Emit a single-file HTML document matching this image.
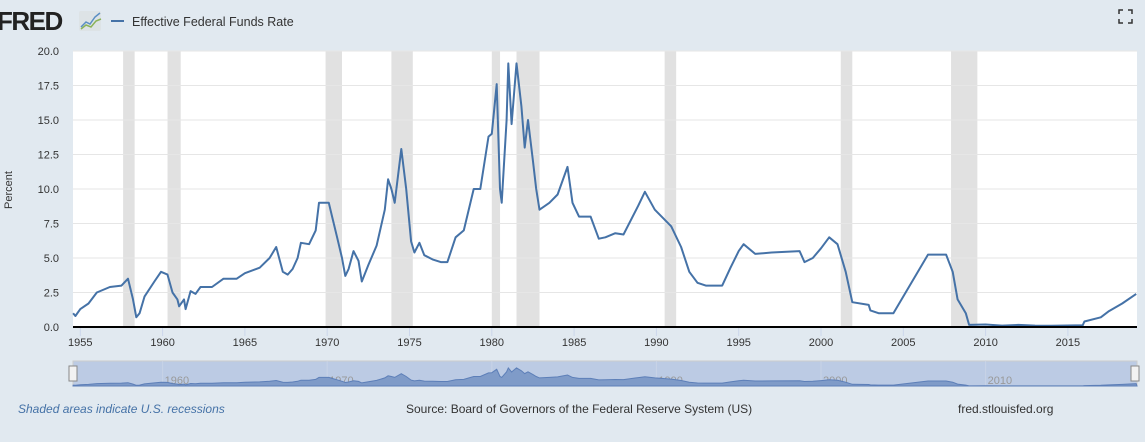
<!DOCTYPE html>
<html><head><meta charset="utf-8"><style>
body{margin:0;width:1145px;height:437px;background:#e1e9f0;font-family:"Liberation Sans",sans-serif;overflow:hidden}
</style></head><body>
<svg id="s" width="1145" height="437" xmlns="http://www.w3.org/2000/svg" font-family="Liberation Sans, sans-serif">
<rect x="0" y="0" width="1145" height="437" fill="#e1e9f0"/>
<text x="-3" y="30" font-size="26" font-weight="bold" fill="#222" letter-spacing="-1.5">FRED</text>
<rect x="79" y="11" width="22" height="20" fill="#dde3e6" rx="2"/>
<polyline points="81,27 86,22 90,24 95,17 100,13" fill="none" stroke="#5b8fc4" stroke-width="1.5"/>
<polyline points="81,29 86,25 91,27 96,21 101,19" fill="none" stroke="#8bb35a" stroke-width="1.5"/>
<line x1="111" y1="21" x2="124" y2="21" stroke="#4572a7" stroke-width="2"/>
<text x="132" y="26" font-size="12.5" fill="#333">Effective Federal Funds Rate</text>
<path d="M1119 14v-4h4M1128 10h4v4M1132 19v4h-4M1123 23h-4v-4" fill="none" stroke="#333" stroke-width="1.5"/>
<rect x="73" y="51" width="1064" height="277" fill="#fff"/>
<g id="rec"></g><g id="grid"></g>
<text x="12" y="190" font-size="11" fill="#333" transform="rotate(-90 12 190)" text-anchor="middle">Percent</text>
<path id="line" fill="none" stroke="#4572a7" stroke-width="2" stroke-linejoin="round"/>
<line x1="73" y1="327" x2="1137" y2="327" stroke="#000" stroke-width="2"/>
<g id="xt"></g>
<rect x="73" y="361" width="1064" height="25" fill="#bccbe4" stroke="#ccc"/>
<g id="nl"></g>
<path id="nav" fill="#7f9bc8" stroke="#5d7fb8" stroke-width="1"/>
<rect x="69" y="366" width="8" height="15" fill="#f2f2f2" stroke="#888"/>
<rect x="1131" y="366" width="8" height="15" fill="#f2f2f2" stroke="#888"/>
<text x="18" y="413" font-size="12" font-style="italic" fill="#4572a7">Shaded areas indicate U.S. recessions</text>
<text x="406" y="413" font-size="12" fill="#333">Source: Board of Governors of the Federal Reserve System (US)</text>
<text x="958" y="413" font-size="12" fill="#333">fred.stlouisfed.org</text>
</svg>
<script>
const NS="http://www.w3.org/2000/svg";
const X=y=>80.3+(y-1955)*16.46, Y=v=>327-v*13.8;
function el(p,t,a,txt){const e=document.createElementNS(NS,t);for(const k in a)e.setAttribute(k,a[k]);if(txt)e.textContent=txt;document.getElementById(p).appendChild(e);}
[[1957.6,1958.3],[1960.3,1961.1],[1969.9,1970.9],[1973.9,1975.2],[1980.0,1980.5],[1981.5,1982.9],[1990.5,1991.2],[2001.2,2001.9],[2007.9,2009.5]].forEach(r=>el("rec","rect",{x:X(r[0]),y:51,width:X(r[1])-X(r[0]),height:276,fill:"#e1e1e1"}));
for(let i=0;i<=8;i++){const v=i*2.5;if(i>0)el("grid","line",{x1:73,x2:1137,y1:Y(v),y2:Y(v),stroke:"#e6e6e6"});el("grid","text",{x:59,y:Y(v)+4,"font-size":11,fill:"#333","text-anchor":"end"},v.toFixed(1));}
for(let y=1955;y<=2015;y+=5){el("xt","line",{x1:X(y),x2:X(y),y1:328,y2:336,stroke:"#ccd6eb"});el("xt","text",{x:X(y),y:346,"font-size":11,fill:"#333","text-anchor":"middle"},y);}
for(let y=1960;y<=2010;y+=10){el("nl","line",{x1:X(y),x2:X(y),y1:361,y2:386,stroke:"#c8d3e6"});el("nl","text",{x:X(y)+2,y:384,"font-size":11,fill:"#999"},y);}
const d=[[1954.56,1.0],[1954.7,0.8],[1955,1.3],[1955.5,1.7],[1956,2.5],[1956.8,2.9],[1957.5,3.0],[1957.9,3.5],[1958.2,2.0],[1958.4,0.7],[1958.6,1.0],[1958.9,2.2],[1959.5,3.3],[1959.9,4.0],[1960.3,3.8],[1960.6,2.5],[1960.9,2.0],[1961,1.5],[1961.3,2.0],[1961.4,1.3],[1961.7,2.6],[1962,2.4],[1962.3,2.9],[1963,2.9],[1963.7,3.5],[1964.5,3.5],[1965,3.9],[1965.9,4.3],[1966.5,5.0],[1966.9,5.8],[1967.3,4.0],[1967.6,3.8],[1967.9,4.2],[1968.2,5.0],[1968.4,6.1],[1968.9,6.0],[1969.3,7.0],[1969.5,9.0],[1969.9,9.0],[1970.1,9.0],[1970.3,8.0],[1970.6,6.5],[1970.9,5.0],[1971.1,3.7],[1971.3,4.2],[1971.6,5.5],[1971.9,4.8],[1972.1,3.3],[1972.5,4.5],[1973,5.9],[1973.5,8.5],[1973.7,10.7],[1973.9,10.0],[1974.1,9.0],[1974.5,12.9],[1974.8,10.0],[1975.1,6.2],[1975.3,5.4],[1975.6,6.1],[1975.9,5.2],[1976.4,4.9],[1976.9,4.7],[1977.3,4.7],[1977.8,6.5],[1978.3,7.0],[1978.9,10.0],[1979.3,10.0],[1979.8,13.8],[1980.0,14.0],[1980.3,17.6],[1980.5,10.0],[1980.6,9.0],[1980.9,15.0],[1981.0,19.1],[1981.2,14.7],[1981.5,19.1],[1981.8,16.0],[1982.0,13.0],[1982.2,15.0],[1982.5,12.0],[1982.7,10.0],[1982.9,8.5],[1983.5,9.0],[1984,9.6],[1984.6,11.6],[1984.9,9.0],[1985.3,8.0],[1986.0,8.0],[1986.5,6.4],[1986.9,6.5],[1987.5,6.8],[1988,6.7],[1988.9,8.8],[1989.3,9.8],[1989.9,8.5],[1990.9,7.3],[1991.5,5.8],[1992,4.0],[1992.5,3.2],[1993,3.0],[1994,3.0],[1994.5,4.3],[1995,5.5],[1995.3,6.0],[1996,5.3],[1997,5.4],[1998.7,5.5],[1999,4.7],[1999.5,5.0],[2000,5.7],[2000.5,6.5],[2001,6.0],[2001.5,4.0],[2001.9,1.8],[2002.9,1.6],[2003,1.2],[2003.5,1.0],[2004.4,1.0],[2006.5,5.25],[2007.6,5.25],[2008,4.0],[2008.3,2.0],[2008.8,1.0],[2009,0.15],[2010,0.18],[2011,0.1],[2012,0.15],[2013,0.1],[2014,0.09],[2015.9,0.12],[2016,0.4],[2017,0.7],[2017.5,1.15],[2018.3,1.7],[2019.15,2.4]];
document.getElementById("line").setAttribute("d","M"+d.map(p=>X(p[0]).toFixed(1)+","+Y(p[1]).toFixed(1)).join("L"));
document.getElementById("nav").setAttribute("d","M73,386L"+d.map(p=>X(p[0]).toFixed(1)+","+(386-p[1]*0.95).toFixed(1)).join("L")+"L1137,386Z");
</script>
</body></html>
